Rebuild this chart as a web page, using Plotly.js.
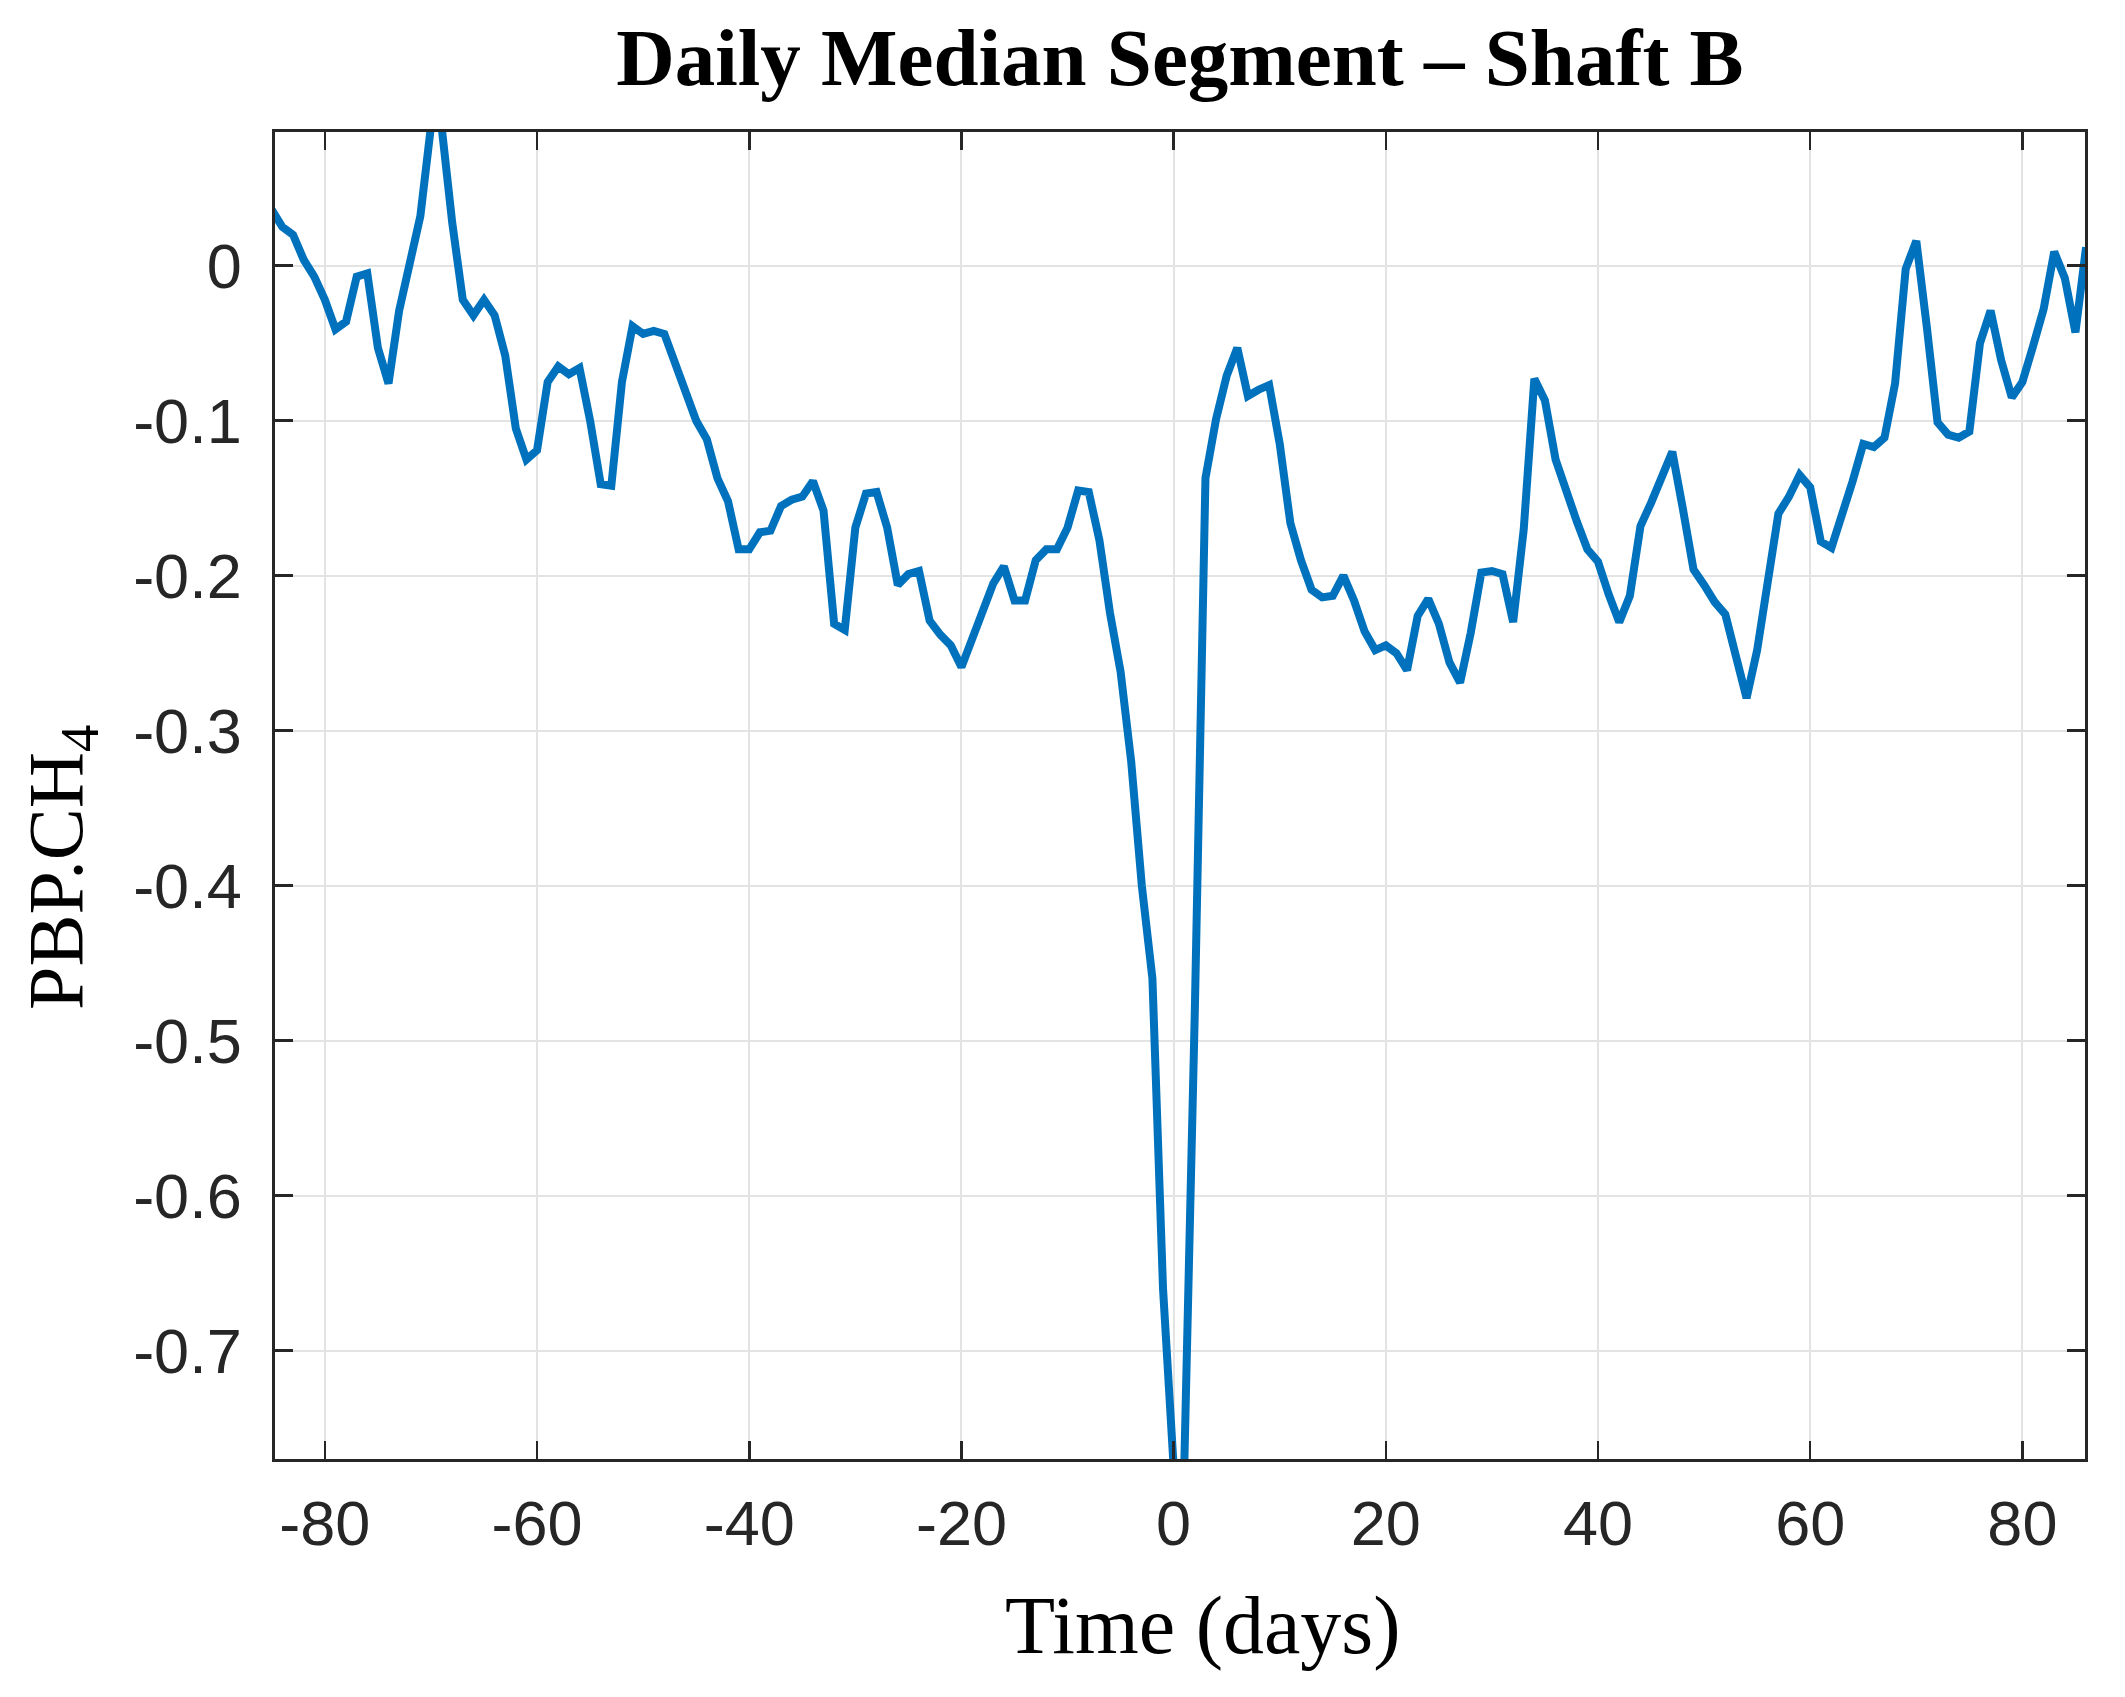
<!DOCTYPE html>
<html>
<head>
<meta charset="utf-8">
<script src="https://cdn.plot.ly/plotly-3.0.1.min.js"></script>
<style>
  html, body { margin: 0; padding: 0; background: #fff; }
  #chart { width: 2125px; height: 1697px; }
</style>
</head>
<body>
<div id="chart"></div>
<script>
// days relative to the event, one sample per day
var days = [
  -85, -84, -83, -82, -81, -80, -79, -78, -77, -76, -75, -74, -73, -72, -71, -70, -69, -68, -67, -66,
  -65, -64, -63, -62, -61, -60, -59, -58, -57, -56, -55, -54, -53, -52, -51, -50, -49, -48, -47, -46,
  -45, -44, -43, -42, -41, -40, -39, -38, -37, -36, -35, -34, -33, -32, -31, -30, -29, -28, -27, -26,
  -25, -24, -23, -22, -21, -20, -19, -18, -17, -16, -15, -14, -13, -12, -11, -10, -9, -8, -7, -6,
  -5, -4, -3, -2, -1, 0, 1, 2, 3, 4, 5, 6, 7, 8, 9, 10, 11, 12, 13, 14,
  15, 16, 17, 18, 19, 20, 21, 22, 23, 24, 25, 26, 27, 28, 29, 30, 31, 32, 33, 34,
  35, 36, 37, 38, 39, 40, 41, 42, 43, 44, 45, 46, 47, 48, 49, 50, 51, 52, 53, 54,
  55, 56, 57, 58, 59, 60, 61, 62, 63, 64, 65, 66, 67, 68, 69, 70, 71, 72, 73, 74,
  75, 76, 77, 78, 79, 80, 81, 82, 83, 84, 85, 86
];

// daily median PBP.CH4
var pbp = [
  0.036, 0.025, 0.020, 0.004, -0.007, -0.022, -0.041, -0.036, -0.007, -0.005, -0.053, -0.076, -0.029, 0.003, 0.032, 0.090, 0.090, 0.028, -0.022, -0.032,
  -0.022, -0.032, -0.058, -0.105, -0.125, -0.119, -0.075, -0.065, -0.070, -0.066, -0.100, -0.141, -0.142, -0.075, -0.039, -0.044, -0.042, -0.044, -0.062, -0.083,
  -0.100, -0.112, -0.137, -0.152, -0.183, -0.183, -0.172, -0.171, -0.155, -0.151, -0.149, -0.139, -0.158, -0.231, -0.235, -0.169, -0.147, -0.146, -0.169, -0.206,
  -0.199, -0.197, -0.229, -0.238, -0.245, -0.259, -0.242, -0.223, -0.205, -0.194, -0.216, -0.216, -0.190, -0.183, -0.183, -0.169, -0.145, -0.146, -0.177, -0.224,
  -0.262, -0.320, -0.400, -0.460, -0.660, -0.775, -0.775, -0.480, -0.137, -0.099, -0.071, -0.053, -0.084, -0.080, -0.077, -0.115, -0.166, -0.190, -0.209, -0.214,
  -0.213, -0.200, -0.216, -0.236, -0.248, -0.245, -0.250, -0.261, -0.226, -0.215, -0.231, -0.256, -0.269, -0.237, -0.198, -0.197, -0.199, -0.230, -0.170, -0.073,
  -0.087, -0.125, -0.146, -0.165, -0.183, -0.191, -0.212, -0.230, -0.213, -0.168, -0.153, -0.137, -0.120, -0.157, -0.196, -0.206, -0.217, -0.225, -0.253, -0.279,
  -0.248, -0.204, -0.160, -0.149, -0.135, -0.143, -0.178, -0.182, -0.162, -0.139, -0.115, -0.117, -0.111, -0.076, -0.002, 0.016, -0.040, -0.101, -0.109, -0.111,
  -0.107, -0.050, -0.029, -0.061, -0.085, -0.075, -0.052, -0.028, 0.009, -0.008, -0.043, 0.012
];

var xTicks = [-80, -60, -40, -20, 0, 20, 40, 60, 80];
var xTickText = ['-80', '-60', '-40', '-20', '0', '20', '40', '60', '80'];
var yTicks = [0, -0.1, -0.2, -0.3, -0.4, -0.5, -0.6, -0.7];
var yTickText = ['0', '-0.1', '-0.2', '-0.3', '-0.4', '-0.5', '-0.6', '-0.7'];

var axisColor = '#262626';
var tickFont = { family: 'Liberation Sans, Arial, sans-serif', size: 63, color: axisColor };
var serif = 'Liberation Serif, Times New Roman, serif';

// plot box in pixels: left 275, right 2085, top 132, bottom 1459
var trace = {
  x: days, y: pbp,
  mode: 'lines', name: 'median',
  line: { color: '#0072BD', width: 8 }
};

var layout = {
  width: 2125, height: 1697,
  paper_bgcolor: '#ffffff', plot_bgcolor: '#ffffff',
  margin: { l: 275, r: 40, t: 132, b: 238 },
  showlegend: false,
  title: {
    text: '<b>Daily Median Segment – Shaft B</b>',
    font: { family: serif, size: 81, color: '#000' },
    x: 0.5, xref: 'paper', xanchor: 'center',
    y: 1 - 57 / 1697, yref: 'container', yanchor: 'middle'
  },
  xaxis: {
    range: [-84.7, 85.9],
    tickvals: xTicks, ticktext: xTickText,
    ticks: 'inside', ticklen: 18, tickwidth: 2.5, tickcolor: axisColor,
    showline: true, linecolor: axisColor, linewidth: 2.7, mirror: 'ticks',
    showgrid: true, gridcolor: '#e3e3e3', gridwidth: 2,
    zeroline: false,
    tickfont: tickFont, ticklabelstandoff: 8
  },
  yaxis: {
    range: [-0.770, 0.0863],
    tickvals: yTicks, ticktext: yTickText,
    ticks: 'inside', ticklen: 18, tickwidth: 2.5, tickcolor: axisColor,
    showline: true, linecolor: axisColor, linewidth: 2.7, mirror: 'ticks',
    showgrid: true, gridcolor: '#e3e3e3', gridwidth: 2,
    zeroline: false,
    tickfont: tickFont, ticklabelstandoff: 18
  },
  annotations: [
    {
      text: 'Time (days)', showarrow: false,
      xref: 'paper', x: 0.5 + 23 / 1810, xanchor: 'center',
      yref: 'paper', y: -(1625 - 1459) / 1327, yanchor: 'middle',
      font: { family: serif, size: 82, color: '#000' }
    },
    {
      text: 'PBP.CH<sub>4</sub>', showarrow: false, textangle: -90,
      xref: 'paper', x: -(275 - 61) / 1810, xanchor: 'center',
      yref: 'paper', y: (1459 - 868) / 1327, yanchor: 'middle',
      font: { family: serif, size: 78, color: '#000' }
    }
  ]
};

Plotly.newPlot('chart', [trace], layout, { staticPlot: true });
</script>
</body>
</html>
